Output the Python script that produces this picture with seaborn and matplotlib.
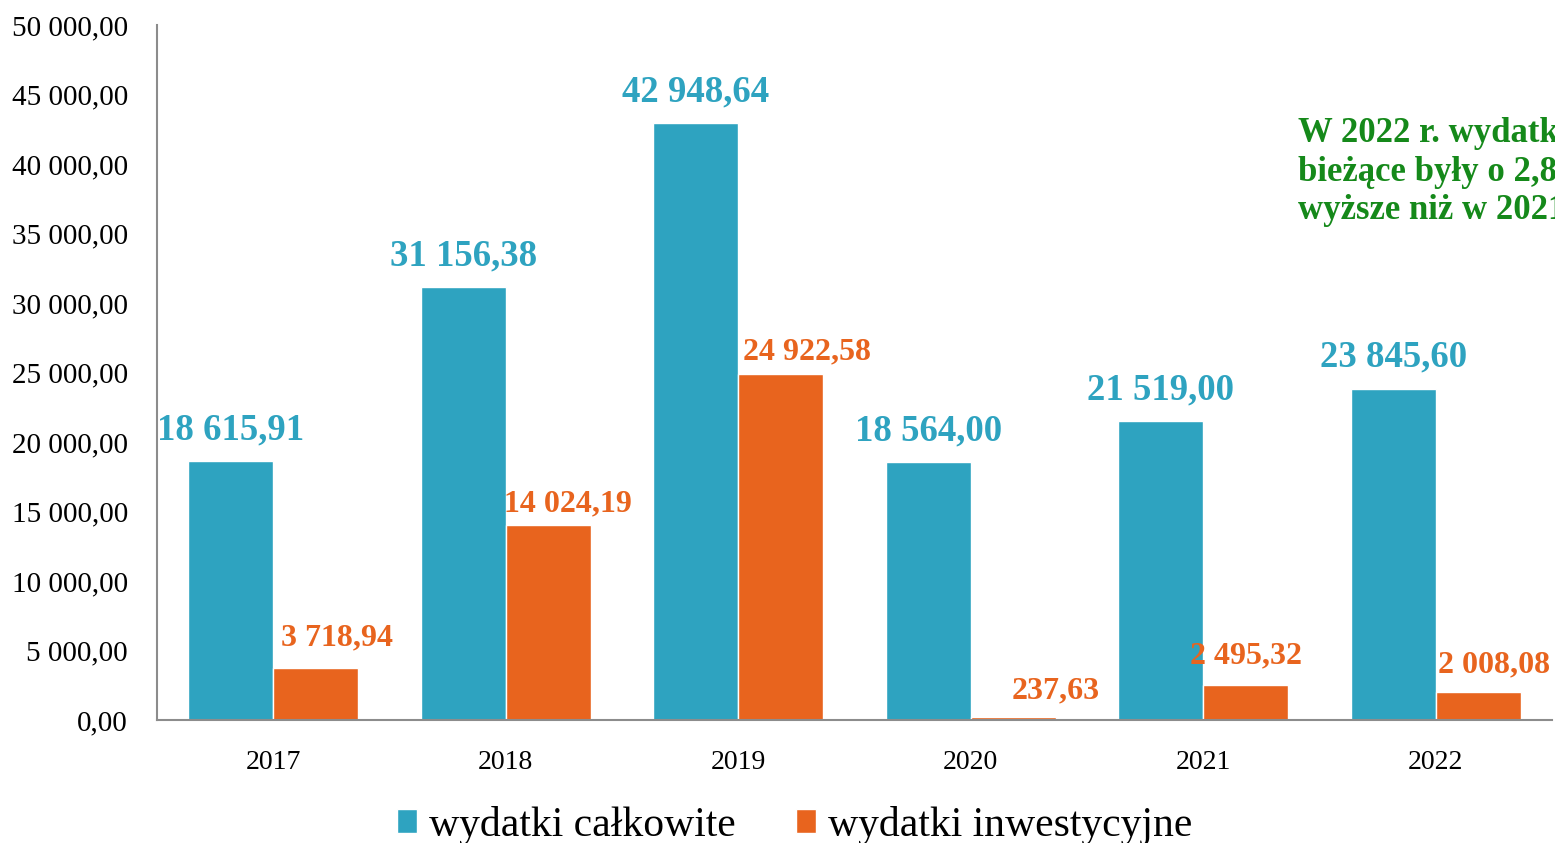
import matplotlib
matplotlib.use('Agg')
import matplotlib.pyplot as plt
import seaborn as sns
import pandas as pd

years = ['2017', '2018', '2019', '2020', '2021', '2022']
wydatki_calkowite = [18615.91, 31156.38, 42948.64, 18564.00, 21519.00, 23845.60]
wydatki_inwestycyjne = [3718.94, 14024.19, 24922.58, 237.63, 2495.32, 2008.08]
series = ['wydatki całkowite', 'wydatki inwestycyjne']
colors = ['#2EA3C0', '#E8641E']
y_ticks = list(range(0, 50001, 5000))
note = 'W 2022 r. wydatki\nbieżące były o 2,8%\nwyższe niż w 2021 r.'

# orange labels were placed by hand in the original (x shift, lift, in pixels)
inv_label_shift = [(21, 23), (20, 14), (26, 14), (43, 18), (0, 22), (16, 20)]

sns.set_theme(style='white')
plt.rcParams['font.family'] = ['Liberation Serif', 'DejaVu Serif']


def pl(v):
    s = f'{v:,.2f}'
    return s.replace(',', ' ').replace('.', ',')


df = pd.DataFrame({
    'rok': years * 2,
    'wartosc': wydatki_calkowite + wydatki_inwestycyjne,
    'seria': [series[0]] * len(years) + [series[1]] * len(years),
})

fig = plt.figure(figsize=(15.55, 8.43), dpi=100)
ax = fig.add_axes([0.101, 0.146, 0.897, 0.824])

sns.barplot(data=df, x='rok', y='wartosc', hue='seria', palette=colors,
            width=0.73, gap=0, saturation=1, ax=ax, legend=True)

ax.bar_label(ax.containers[0], labels=[pl(v) for v in wydatki_calkowite],
             color=colors[0], fontsize=26.5, fontweight='bold', padding=10)

for bar, v, (dx, dy) in zip(ax.containers[1], wydatki_inwestycyjne, inv_label_shift):
    ax.annotate(pl(v), (bar.get_x() + bar.get_width() / 2, bar.get_height()),
                xytext=(dx, dy), textcoords='offset pixels', ha='center',
                va='baseline', color=colors[1], fontsize=23, fontweight='bold')

ax.set_ylim(0, 50000)
ax.set_xlim(-0.5, 5.5)
ax.set_yticks(y_ticks)
ax.set_yticklabels([pl(v) for v in y_ticks], fontsize=21, color='black')
ax.tick_params(axis='x', labelsize=20, pad=22, length=0, labelcolor='black')
ax.tick_params(axis='y', length=0, pad=21)
ax.set_xlabel('')
ax.set_ylabel('')

for side in ['top', 'right']:
    ax.spines[side].set_visible(False)
for side in ['left', 'bottom']:
    ax.spines[side].set_color('#8C8C8C')
    ax.spines[side].set_linewidth(1.5)

ax.legend(loc='center', bbox_to_anchor=(0.511, 0.021), bbox_transform=fig.transFigure,
          ncol=2, frameon=False, fontsize=30, handlelength=0.48, handleheight=0.48,
          handletextpad=0.28, columnspacing=1.45, borderaxespad=0, labelcolor='black')

fig.text(0.835, 0.861, note, color='#15891A', fontsize=25, fontweight='bold',
         va='top', ha='left', linespacing=1.22)

fig.savefig('out.png', dpi=100)
